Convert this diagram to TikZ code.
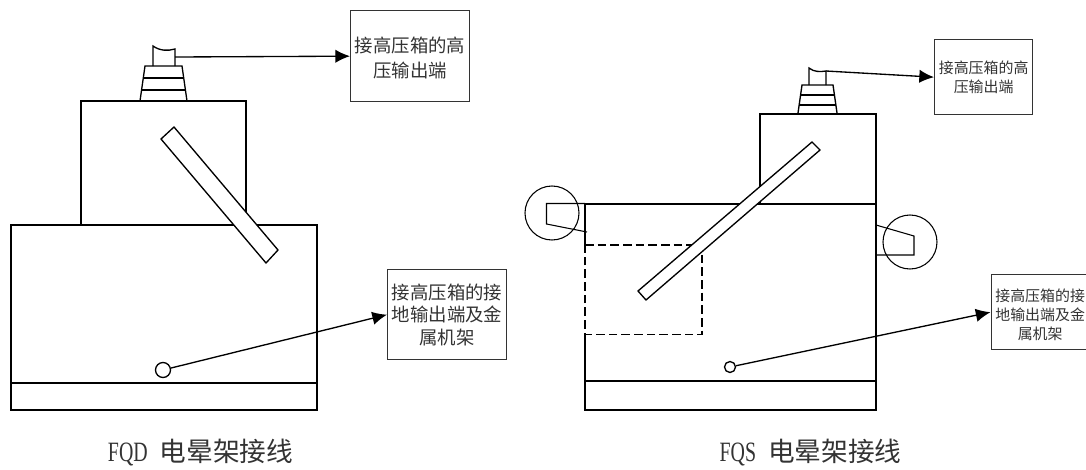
\documentclass[tikz,border=0pt]{standalone}
\usepackage{fontspec}
\setmainfont{Liberation Serif}
\newfontfamily\narrowf[FakeStretch=0.71]{Liberation Serif}
\newfontfamily\cjk{Noto Sans CJK SC}
\usetikzlibrary{arrows.meta}
\tikzset{
  x=0.75pt,y=-0.75pt,
  part/.style={draw=black,line width=1pt,line join=miter},
  thinp/.style={draw=black,line width=0.8pt},
  conn/.style={draw=black,line width=1pt,-{Latex[length=11pt,width=10pt]}},
  dash line/.style={draw=black,line width=1pt,dash pattern=on 6.5pt off 3pt},
  labelbox/.style={draw=black,line width=1pt,inner sep=0pt,align=center,anchor=north west},
  bigl/.style={font=\cjk\fontsize{13.8pt}{18.75pt}\selectfont,color=black!80},
  bigm/.style={font=\cjk\fontsize{13.8pt}{16.9pt}\selectfont,color=black!80},
  smalll/.style={font=\cjk\fontsize{11.2pt}{14.25pt}\selectfont,color=black!80},
  capt/.style={font=\cjk\fontsize{20pt}{22pt}\selectfont,color=black!80,anchor=center,inner sep=0pt},
}
\begin{document}
\begin{tikzpicture}
\useasboundingbox (0,0) rectangle (1086,469);
% ---------- left: FQD
\draw[part] (11,225) rectangle (317,410);
\draw[part] (11,383) -- (317,383);
\draw[part] (81,101) rectangle (246,225);
\draw[part,fill=white] (174,127) -- (161,139) -- (266,263) -- (278,250) -- cycle;
\draw[part] (140,101) -- (145,66) -- (182,66) -- (187,101);
\draw[part] (143,78) -- (184,78);
\draw[part] (141,90) -- (186,90);
\draw[part] (153,66) -- (153,46) .. controls (160,51) and (168,51) .. (175,49) -- (175,66);
\coordinate (hvA) at (175,57);
\node[labelbox,bigl,minimum width=119*0.75pt,minimum height=91*0.75pt] (boxA) at (350,10) {\rule{0pt}{15pt}接高压箱的高\\压输出端};
\draw[conn] (hvA) -- (boxA.west);
\node[circle,part,minimum size=15*0.75pt,inner sep=0pt] (gndA) at (163,370) {};
\node[labelbox,bigm,minimum width=119*0.75pt,minimum height=90*0.75pt] (boxB) at (387,269) {接高压箱的接\\地输出端及金\\属机架};
\draw[conn] (gndA) -- (boxB.west);
\node[capt] (capA) at (200.5,453) {{\narrowf\fontsize{21pt}{22pt}\selectfont FQD}\hspace{9pt}电晕架接线};
% ---------- right: FQS
\draw[part] (585,204) -- (876,204) -- (876,410) -- (585,410) -- (585,335);
\draw[part] (585,204) -- (585,245);
\draw[part] (585,381) -- (876,381);
\draw[part] (760,204) -- (760,114) -- (876,114) -- (876,204);
\draw[dash line] (585,245) -- (702,245) -- (702,334.5) -- (585,334.5) -- cycle;
\draw[part,fill=white] (812,142) -- (638,291) -- (646,300) -- (820,150) -- cycle;
\node[circle,thinp,minimum size=54*0.75pt,inner sep=0pt] (ringL) at (552,213) {};
\draw[thinp] (585,203.5) -- (546.5,203.5) -- (546.5,224) -- (587,232);
\node[circle,thinp,minimum size=54*0.75pt,inner sep=0pt] (ringR) at (910,242) {};
\draw[thinp] (876,225) -- (914,236) -- (914,255) -- (876,255);
\draw[part] (798,113) -- (802,85) -- (833,85) -- (837,113);
\draw[part] (801,95) -- (834,95);
\draw[part] (799,105) -- (836,105);
\draw[part] (809,85) -- (809,68) .. controls (814,72) and (820,72) .. (826,71) -- (826,85);
\coordinate (hvB) at (826,71);
\node[labelbox,smalll,minimum width=98*0.75pt,minimum height=75*0.75pt] (boxC) at (934,39) {接高压箱的高\\压输出端};
\draw[conn] (hvB) -- (boxC.west);
\node[circle,part,minimum size=11*0.75pt,inner sep=0pt] (gndB) at (730,367) {};
\node[labelbox,smalll,minimum width=98*0.75pt,minimum height=75*0.75pt] (boxD) at (990.5,274) {\rule{0pt}{13pt}接高压箱的接\\地输出端及金\\属机架};
\draw[conn] (gndB) -- (boxD.west);
\node[capt] (capB) at (810.5,453) {{\narrowf\fontsize{21pt}{22pt}\selectfont FQS}\hspace{9pt}电晕架接线};
\end{tikzpicture}
\end{document}
